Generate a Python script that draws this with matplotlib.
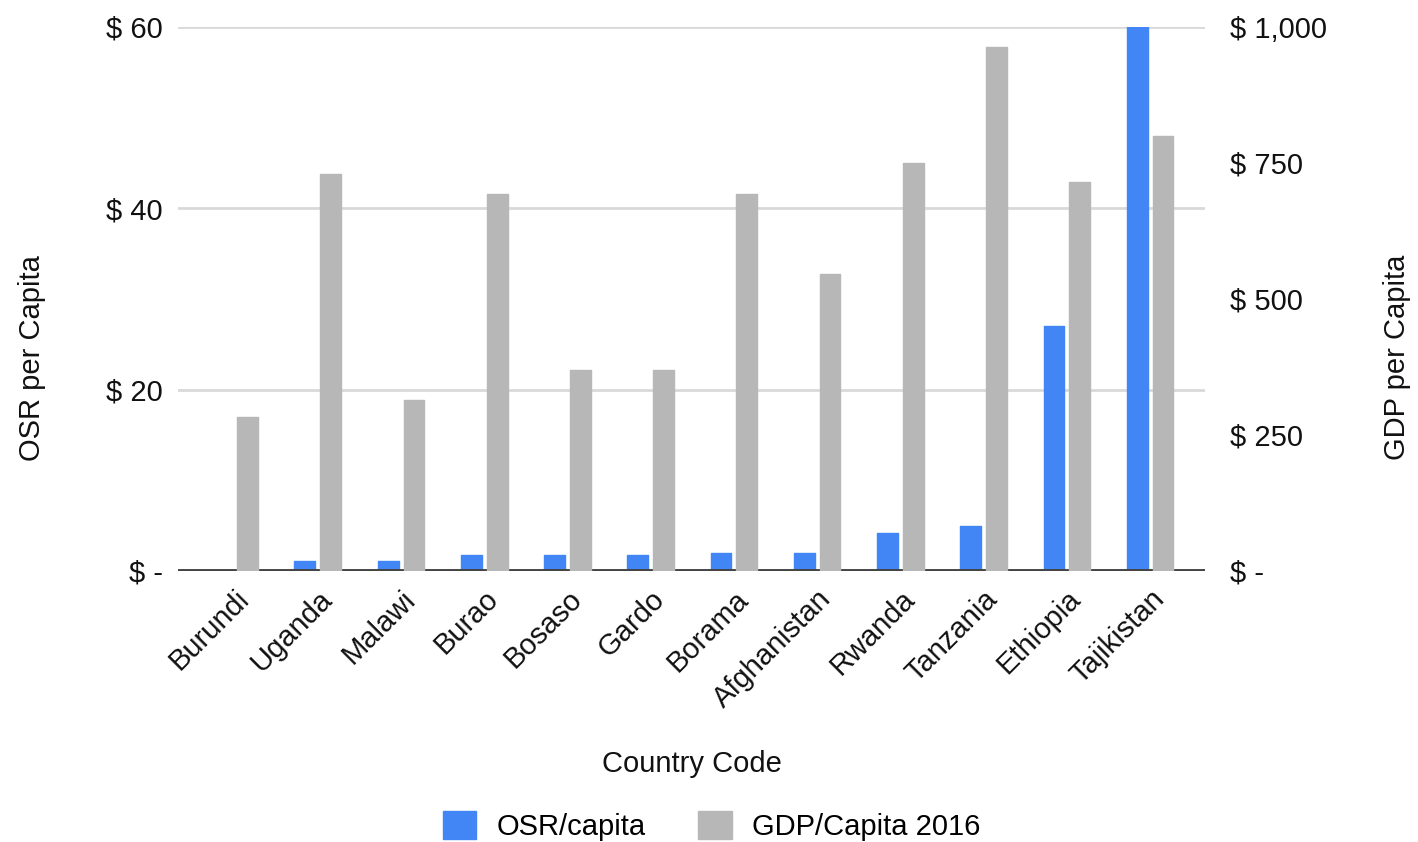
import matplotlib.pyplot as plt
import numpy as np

plt.rcParams['font.family'] = ['Liberation Sans', 'DejaVu Sans']

paises = ["Burundi", "Uganda", "Malawi", "Burao", "Bosaso", "Gardo", "Borama",
          "Afghanistan", "Rwanda", "Tanzania", "Ethiopia", "Tajikistan"]
osr_capita = [0.0, 1.1, 1.1, 1.8, 1.8, 1.8, 2.0, 2.0, 4.2, 5.0, 27.0, 60.0]
gdp_capita = [283, 730, 315, 693, 370, 370, 693, 545, 750, 963, 715, 800]

ticks_esq = [0, 20, 40, 60]
rotulos_esq = ["$ -", "$ 20", "$ 40", "$ 60"]
ticks_dir = [0, 250, 500, 750, 1000]
rotulos_dir = ["$ -", "$ 250", "$ 500", "$ 750", "$ 1,000"]

azul = "#4285F4"
cinza = "#B7B7B7"
texto = "#111111"
fs = 21

fig = plt.figure(figsize=(14.18, 8.42), dpi=100)
ax = fig.add_axes([0.1255, 0.3219, 0.7243, 0.6461])
ax2 = ax.twinx()

x = np.arange(len(paises))
larg = 0.25
desl = 0.155

ax.bar(x - desl, osr_capita, larg, color=azul, edgecolor=azul, linewidth=1,
       joinstyle="round", label="OSR/capita", zorder=3)
ax2.bar(x + desl, gdp_capita, larg, color=cinza, edgecolor=cinza, linewidth=1,
        joinstyle="round", label="GDP/Capita 2016", zorder=3)

ax.set_xlim(-0.68, 11.66)
ax.set_ylim(0, 60)
ax2.set_ylim(0, 1000)

ax.set_yticks(ticks_esq)
ax.set_yticklabels(rotulos_esq, fontsize=fs, color=texto)
ax2.set_yticks(ticks_dir)
ax2.set_yticklabels(rotulos_dir, fontsize=fs, color=texto)

ax.set_xticks(x)
ax.set_xticklabels(paises, rotation=45, ha="right", rotation_mode="anchor",
                   fontsize=fs, color=texto)

ax.grid(axis="y", color="#D9D9D9", linewidth=2, zorder=0)
ax.set_axisbelow(True)
for a in (ax, ax2):
    for s in a.spines.values():
        s.set_visible(False)
    a.tick_params(length=0)
ax.tick_params(axis="y", pad=11)
ax2.tick_params(axis="y", pad=18)
ax.tick_params(axis="x", pad=10)
ax.axhline(0, color="#444444", linewidth=2.8, zorder=4)

ax.set_ylabel("OSR per Capita", fontsize=fs, color=texto)
ax.yaxis.set_label_coords(-0.1285, 0.392)
ax2.set_ylabel("GDP per Capita", fontsize=fs, color=texto)
ax2.yaxis.set_label_coords(1.173, 0.392)
ax.set_xlabel("Country Code", fontsize=fs, color=texto)
ax.xaxis.set_label_coords(0.5, -0.329)

h1, l1 = ax.get_legend_handles_labels()
h2, l2 = ax2.get_legend_handles_labels()
fig.legend(h1 + h2, l1 + l2, loc="center", bbox_to_anchor=(0.502, 0.019),
           ncol=2, frameon=False, fontsize=fs, handlelength=1.15, handleheight=1.1,
           columnspacing=1.8, handletextpad=0.7)

fig.savefig("out.png", dpi=100)
